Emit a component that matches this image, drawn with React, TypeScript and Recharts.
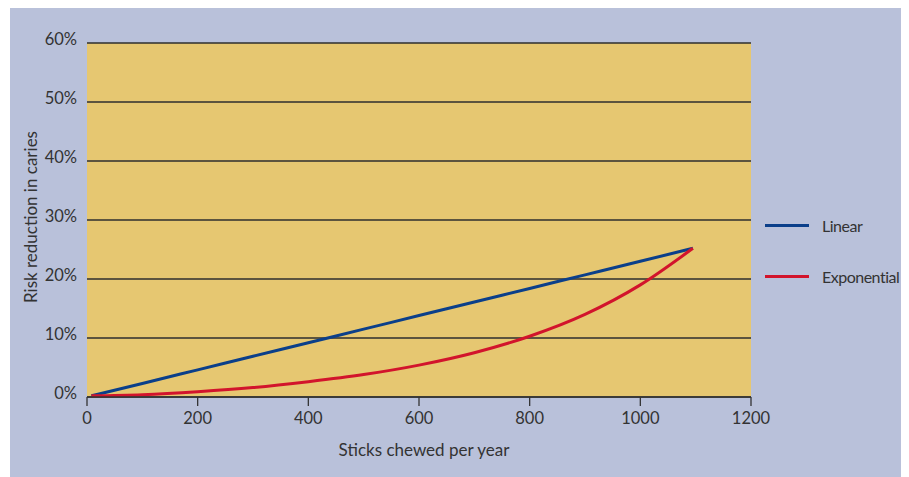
import React from "react";
import { LineChart, Line, XAxis, YAxis, CartesianGrid } from "recharts";

const sticks = [8, 100, 200, 300, 400, 500, 600, 700, 800, 900, 1000, 1095];
const linear = [0.2, 2.3, 4.6, 6.9, 9.2, 11.5, 13.8, 16.1, 18.4, 20.7, 23.0, 25.2];
const exponential = [0.2, 0.4, 0.9, 1.6, 2.6, 3.8, 5.4, 7.5, 10.3, 14.0, 19.0, 25.2];

const xTicks = [0, 200, 400, 600, 800, 1000, 1200];
const yTicks = [0, 10, 20, 30, 40, 50, 60];

const series = [
  { key: "linear", name: "Linear", color: "#0b3f8a" },
  { key: "exponential", name: "Exponential", color: "#d2142c" },
];

const data = sticks.map((s, i) => ({
  sticks: s,
  linear: linear[i],
  exponential: exponential[i],
}));

const FONT = "Lato, 'Open Sans', sans-serif";
const TEXT = "#333333";

const YTick = ({ x, y, payload }: any) => (
  <text x={x} y={y} dy={2} textAnchor="end" fill={TEXT} fontSize={16.5} fontFamily={FONT}>
    {payload.value}%
  </text>
);

const YLabel = ({ viewBox }: any) => {
  const cx = 20;
  const cy = viewBox.y + viewBox.height / 2 - 3;
  return (
    <text
      x={cx}
      y={cy}
      transform={`rotate(-90 ${cx} ${cy})`}
      textAnchor="middle"
      dominantBaseline="central"
      fill={TEXT}
      fontSize={17}
      fontFamily={FONT}
    >
      Risk reduction in caries
    </text>
  );
};

const XLabel = ({ viewBox }: any) => (
  <text
    x={viewBox.x + viewBox.width / 2 + 5}
    y={441}
    textAnchor="middle"
    dominantBaseline="central"
    fill={TEXT}
    fontSize={17}
    fontFamily={FONT}
  >
    Sticks chewed per year
  </text>
);

export default function App() {
  return (
    <div
      style={{
        position: "relative",
        marginLeft: 2,
        width: 899,
        height: 469,
        background: "#b9c1da",
        fontFamily: FONT,
      }}
    >
      <LineChart
        width={899}
        height={469}
        data={data}
        margin={{ top: 35, right: 158, bottom: 50, left: 0 }}
      >
        <CartesianGrid vertical={false} stroke="#2e2e2e" strokeWidth={1.3} fill="#e6c771" />
        <XAxis
          dataKey="sticks"
          type="number"
          domain={[0, 1200]}
          ticks={xTicks}
          height={30}
          stroke="#333"
          strokeWidth={1.3}
          tickSize={9}
          tickMargin={6}
          tick={{ fill: TEXT, fontSize: 16.5, fontFamily: FONT }}
          label={<XLabel />}
        />
        <YAxis
          type="number"
          domain={[0, 60]}
          ticks={yTicks}
          width={77}
          axisLine={false}
          tickLine={false}
          tickMargin={4}
          tick={<YTick />}
          label={<YLabel />}
        />
        {series.map((s) => (
          <Line
            key={s.key}
            dataKey={s.key}
            name={s.name}
            type="monotone"
            stroke={s.color}
            strokeWidth={3}
            dot={false}
            isAnimationActive={false}
          />
        ))}
      </LineChart>
      <div style={{ position: "absolute", left: 755, top: 204 }}>
        {series.map((s) => (
          <div
            key={s.key}
            style={{ display: "flex", alignItems: "center", height: 26, marginBottom: 25 }}
          >
            <div style={{ width: 44, height: 3, background: s.color, marginRight: 13 }} />
            <span style={{ color: TEXT, fontSize: 16, letterSpacing: -0.5, whiteSpace: "nowrap" }}>
              {s.name}
            </span>
          </div>
        ))}
      </div>
    </div>
  );
}
